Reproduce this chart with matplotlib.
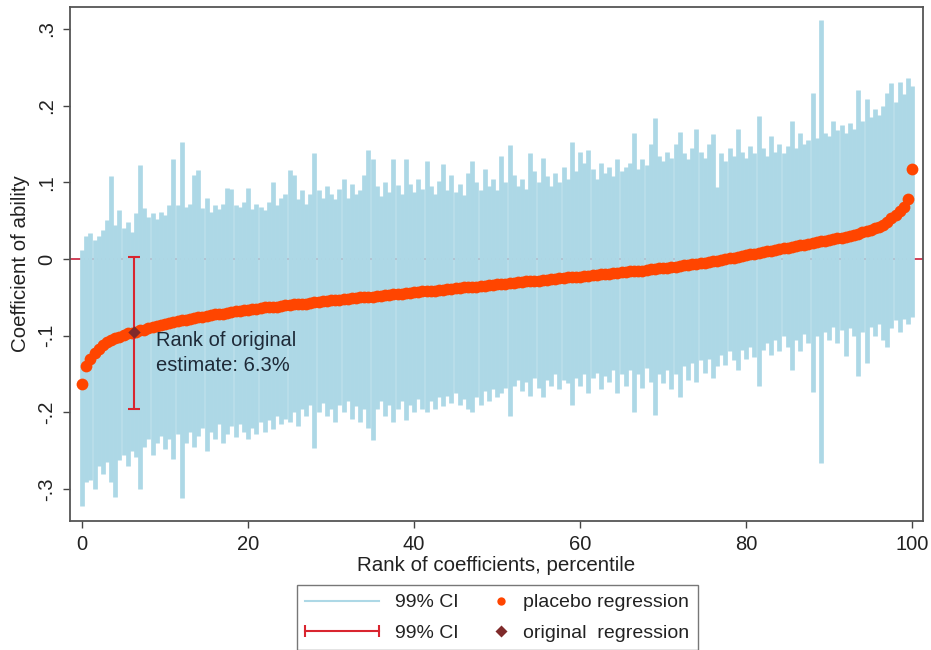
import numpy as np
import matplotlib
matplotlib.use('Agg')
from matplotlib import pyplot as plt
from matplotlib.lines import Line2D
from matplotlib.legend_handler import HandlerLine2D

plt.rcParams['font.family'] = ['Liberation Sans', 'DejaVu Sans']

## Placebo regressions, sorted by coefficient (one entry per half percentile)
coef = [
    -0.163, -0.140, -0.130, -0.122, -0.117, -0.112, -0.108, -0.105, -0.103, -0.101,
    -0.099, -0.097, -0.096, -0.095, -0.093, -0.092, -0.090, -0.089, -0.087, -0.086,
    -0.084, -0.083, -0.082, -0.081, -0.080, -0.079, -0.078, -0.077, -0.076, -0.075,
    -0.074, -0.073, -0.072, -0.072, -0.071, -0.070, -0.069, -0.068, -0.068, -0.067,
    -0.066, -0.065, -0.065, -0.064, -0.063, -0.063, -0.062, -0.062, -0.061, -0.060,
    -0.060, -0.059, -0.059, -0.058, -0.058, -0.057, -0.056, -0.056, -0.055, -0.055,
    -0.054, -0.053, -0.053, -0.052, -0.052, -0.051, -0.051, -0.050, -0.050, -0.049,
    -0.049, -0.048, -0.048, -0.047, -0.047, -0.046, -0.045, -0.045, -0.044, -0.044,
    -0.043, -0.043, -0.042, -0.042, -0.041, -0.041, -0.040, -0.040, -0.039, -0.039,
    -0.038, -0.038, -0.037, -0.037, -0.036, -0.036, -0.035, -0.035, -0.034, -0.034,
    -0.033, -0.032, -0.032, -0.031, -0.031, -0.030, -0.030, -0.029, -0.029, -0.028,
    -0.028, -0.027, -0.027, -0.026, -0.026, -0.025, -0.025, -0.024, -0.024, -0.023,
    -0.023, -0.022, -0.022, -0.021, -0.021, -0.020, -0.019, -0.019, -0.018, -0.018,
    -0.017, -0.017, -0.016, -0.016, -0.015, -0.015, -0.014, -0.013, -0.013, -0.012,
    -0.012, -0.011, -0.010, -0.010, -0.009, -0.008, -0.008, -0.007, -0.006, -0.005,
    -0.005, -0.004, -0.003, -0.002, -0.001, 0.000, 0.001, 0.002, 0.003, 0.004,
    0.005, 0.006, 0.007, 0.008, 0.009, 0.010, 0.011, 0.012, 0.013, 0.014,
    0.015, 0.016, 0.017, 0.018, 0.019, 0.020, 0.021, 0.022, 0.023, 0.024,
    0.025, 0.026, 0.027, 0.028, 0.029, 0.030, 0.032, 0.033, 0.035, 0.036,
    0.038, 0.040, 0.042, 0.045, 0.048, 0.053, 0.058, 0.063, 0.068, 0.078,
    0.118,
]
ci_upper = [
    0.012, 0.030, 0.034, 0.025, 0.030, 0.038, 0.051, 0.108, 0.045, 0.064,
    0.040, 0.048, 0.035, 0.060, 0.122, 0.066, 0.055, 0.060, 0.052, 0.062,
    0.058, 0.070, 0.131, 0.070, 0.153, 0.068, 0.072, 0.110, 0.116, 0.066,
    0.080, 0.062, 0.070, 0.065, 0.072, 0.093, 0.092, 0.070, 0.068, 0.075,
    0.093, 0.065, 0.072, 0.068, 0.064, 0.075, 0.100, 0.070, 0.080, 0.085,
    0.116, 0.110, 0.078, 0.090, 0.072, 0.085, 0.138, 0.090, 0.080, 0.095,
    0.085, 0.078, 0.092, 0.105, 0.080, 0.098, 0.085, 0.090, 0.110, 0.142,
    0.130, 0.095, 0.082, 0.100, 0.088, 0.130, 0.096, 0.085, 0.131, 0.098,
    0.088, 0.104, 0.092, 0.128, 0.095, 0.085, 0.102, 0.124, 0.090, 0.110,
    0.088, 0.098, 0.084, 0.112, 0.128, 0.100, 0.090, 0.118, 0.095, 0.105,
    0.090, 0.134, 0.100, 0.149, 0.110, 0.095, 0.105, 0.092, 0.138, 0.115,
    0.100, 0.132, 0.108, 0.095, 0.112, 0.100, 0.120, 0.105, 0.153, 0.115,
    0.140, 0.125, 0.142, 0.118, 0.105, 0.125, 0.112, 0.120, 0.108, 0.130,
    0.115, 0.120, 0.125, 0.164, 0.118, 0.130, 0.122, 0.150, 0.184, 0.135,
    0.128, 0.140, 0.132, 0.150, 0.166, 0.138, 0.130, 0.145, 0.170, 0.140,
    0.132, 0.150, 0.163, 0.094, 0.138, 0.128, 0.145, 0.135, 0.170, 0.140,
    0.132, 0.148, 0.138, 0.186, 0.145, 0.135, 0.160, 0.140, 0.150, 0.138,
    0.148, 0.180, 0.145, 0.164, 0.150, 0.155, 0.216, 0.158, 0.312, 0.165,
    0.160, 0.180, 0.168, 0.175, 0.165, 0.178, 0.170, 0.221, 0.180, 0.209,
    0.185, 0.195, 0.188, 0.200, 0.216, 0.229, 0.205, 0.231, 0.215, 0.236,
    0.225,
]
ci_lower = [
    -0.322, -0.290, -0.288, -0.300, -0.270, -0.280, -0.265, -0.290, -0.310, -0.262,
    -0.255, -0.270, -0.250, -0.258, -0.300, -0.245, -0.235, -0.255, -0.240, -0.230,
    -0.248, -0.235, -0.260, -0.228, -0.312, -0.240, -0.225, -0.245, -0.230, -0.220,
    -0.250, -0.225, -0.235, -0.215, -0.240, -0.228, -0.218, -0.232, -0.215, -0.225,
    -0.235, -0.220, -0.228, -0.212, -0.225, -0.210, -0.222, -0.205, -0.215, -0.208,
    -0.212, -0.200, -0.218, -0.195, -0.205, -0.190, -0.246, -0.200, -0.188, -0.205,
    -0.195, -0.212, -0.190, -0.200, -0.185, -0.208, -0.192, -0.213, -0.195, -0.220,
    -0.236, -0.195, -0.185, -0.205, -0.190, -0.213, -0.195, -0.185, -0.210, -0.190,
    -0.200, -0.182, -0.195, -0.200, -0.185, -0.195, -0.180, -0.192, -0.178, -0.188,
    -0.175, -0.190, -0.182, -0.195, -0.200, -0.180, -0.190, -0.172, -0.185, -0.170,
    -0.180, -0.175, -0.168, -0.205, -0.165, -0.158, -0.172, -0.160, -0.178, -0.155,
    -0.168, -0.180, -0.158, -0.165, -0.150, -0.170, -0.158, -0.162, -0.190, -0.155,
    -0.165, -0.150, -0.175, -0.155, -0.148, -0.170, -0.152, -0.160, -0.145, -0.175,
    -0.150, -0.165, -0.145, -0.200, -0.150, -0.168, -0.142, -0.160, -0.203, -0.150,
    -0.162, -0.145, -0.170, -0.150, -0.180, -0.140, -0.158, -0.135, -0.160, -0.132,
    -0.148, -0.130, -0.155, -0.140, -0.125, -0.138, -0.120, -0.132, -0.144, -0.118,
    -0.130, -0.115, -0.128, -0.166, -0.118, -0.110, -0.125, -0.105, -0.120, -0.100,
    -0.115, -0.145, -0.105, -0.120, -0.098, -0.110, -0.173, -0.100, -0.266, -0.095,
    -0.105, -0.088, -0.110, -0.092, -0.127, -0.090, -0.100, -0.153, -0.095, -0.135,
    -0.088, -0.100, -0.085, -0.105, -0.114, -0.090, -0.080, -0.095, -0.078, -0.085,
    -0.075,
]
# percentile rank of each placebo coefficient
rank = np.arange(len(coef)) * 100.0 / (len(coef) - 1)

## Original regression
orig_rank = 6.3
orig_coef = -0.095
orig_lower = -0.195
orig_upper = 0.003

xticks = [0, 20, 40, 60, 80, 100]
yticks = [-0.3, -0.2, -0.1, 0, 0.1, 0.2, 0.3]
ytick_labels = ['-.3', '-.2', '-.1', '0', '.1', '.2', '.3']


class RightMarker(HandlerLine2D):
    # put the single marker near the right end of the handle box
    def get_xdata(self, legend, xdescent, ydescent, width, height, fontsize):
        x = np.array([-xdescent + width - 0.3 * fontsize])
        return x, x


fig = plt.figure(figsize=(9.31, 6.5), dpi=100)
ax = fig.add_axes([0.0752, 0.199, 0.9162, 0.7895])

ax.axhline(0, color='#c8203c', lw=1.2, zorder=1)
ax.vlines(rank, ci_lower, ci_upper, color='#add8e6', lw=3.4, zorder=2)
ax.scatter(rank, coef, s=72, color='#ff4500', lw=0, zorder=3)
ax.errorbar(orig_rank, orig_coef,
            yerr=[[orig_coef - orig_lower], [orig_upper - orig_coef]],
            fmt='none', ecolor='#d9252f', elinewidth=1.5, capsize=4, capthick=1.5, zorder=4)
ax.scatter([orig_rank], [orig_coef], marker='D', s=40, color='#7f2a2a', lw=0, zorder=5)
ax.text(8.9, -0.123, 'Rank of original\nestimate: 6.3%', fontsize=14.5,
        ha='left', va='center', color='#1e2a38', linespacing=1.4, zorder=6)

ax.set_xlim(-1.45, 101.3)
ax.set_ylim(-0.341, 0.328)
ax.set_xticks(xticks)
ax.set_yticks(yticks)
ax.set_yticklabels(ytick_labels, rotation=90, va='center')
ax.tick_params(direction='out', length=5, width=1, color='#444444', labelcolor='#222222',
               labelsize=14.5, pad=5)
for s in ax.spines.values():
    s.set_color('#555555')
    s.set_linewidth(1.3)
ax.set_xlabel('Rank of coefficients, percentile', fontsize=14.8, color='#222222', labelpad=2)
ax.set_ylabel('Coefficient of ability', fontsize=14.8, color='#222222', labelpad=5)

h_ci = Line2D([], [], color='#add8e6', lw=1.5)
h_eb = Line2D([], [], color='#d9252f', lw=1.5, marker='|', ms=9, mew=1.5)
h_pl = Line2D([], [], ls='none', marker='o', ms=6, color='#ff4500', mec='none')
h_or = Line2D([], [], ls='none', marker='D', ms=6, color='#7f2a2a', mec='none')
leg = fig.legend([h_ci, h_eb, h_pl, h_or],
                 ['99% CI', '99% CI', 'placebo regression', 'original  regression'],
                 ncol=2, loc='upper center', bbox_to_anchor=(0.534, 0.1),
                 borderaxespad=0,
                 frameon=True, fancybox=False, edgecolor='#555555', fontsize=14,
                 handlelength=3.8, handletextpad=0.8, columnspacing=-1.3,
                 labelspacing=0.65, borderpad=0.45,
                 handler_map={h_eb: HandlerLine2D(marker_pad=0, numpoints=2),
                              h_pl: RightMarker(), h_or: RightMarker()})
leg.get_frame().set_linewidth(1.0)
for t in leg.get_texts():
    t.set_color('#222222')

fig.savefig('out.png', dpi=100)
plt.close()
